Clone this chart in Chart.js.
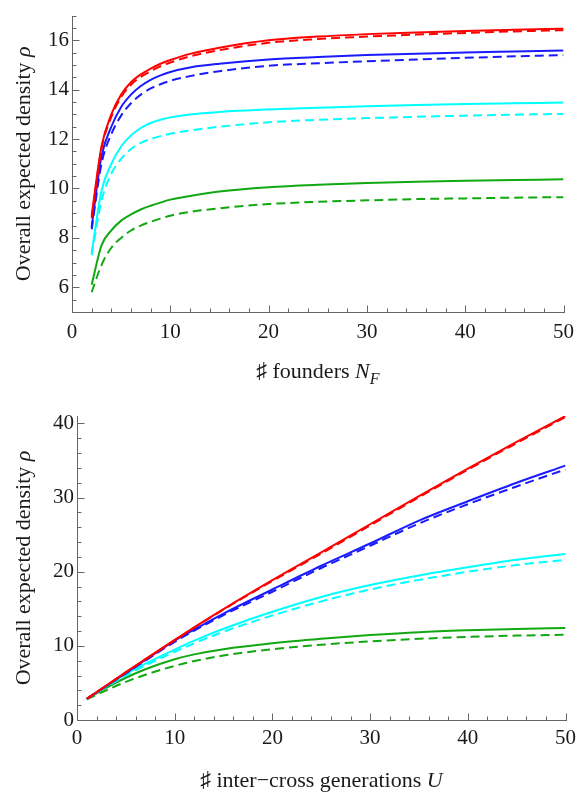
<!DOCTYPE html>
<html>
<head>
<meta charset="utf-8">
<script src="https://cdn.jsdelivr.net/npm/chart.js@4.4.0/dist/chart.umd.min.js"></script>
<style>
  body { margin: 0; background: #fff; }
  .panel { position: absolute; left: 0; }
</style>
</head>
<body>
<div class="panel" style="top:0"><canvas id="foundersChart" width="582" height="392"></canvas></div>
<div class="panel" style="top:392px"><canvas id="generationsChart" width="582" height="402"></canvas></div>
<script>
const SERIF = '"Liberation Serif", "Times New Roman", serif';
const AXIS_GREY = '#666';

// density vs number of founders
const foundersN = [2, 3, 4, 5, 6, 7, 8, 9, 10, 12, 15, 20, 25, 30, 35, 40, 45, 50];
const redSolidNF    = [8.9, 11.7, 13.0, 13.8, 14.3, 14.62, 14.85, 15.05, 15.2, 15.45, 15.7, 16.0, 16.15, 16.25, 16.32, 16.38, 16.43, 16.47];
const redDashedNF   = [8.8, 11.6, 12.9, 13.7, 14.2, 14.52, 14.75, 14.95, 15.1, 15.35, 15.6, 15.9, 16.05, 16.15, 16.23, 16.3, 16.36, 16.41];
const blueSolidNF   = [8.45, 11.3, 12.5, 13.3, 13.8, 14.15, 14.4, 14.58, 14.72, 14.9, 15.05, 15.22, 15.32, 15.4, 15.46, 15.51, 15.55, 15.59];
const blueDashedNF  = [8.35, 11.0, 12.2, 12.95, 13.45, 13.8, 14.05, 14.22, 14.36, 14.55, 14.75, 14.97, 15.07, 15.15, 15.22, 15.29, 15.35, 15.4];
const cyanSolidNF   = [7.4, 9.9, 11.0, 11.7, 12.15, 12.45, 12.65, 12.78, 12.88, 13.0, 13.1, 13.2, 13.27, 13.33, 13.38, 13.42, 13.45, 13.48];
const cyanDashedNF  = [7.3, 9.5, 10.6, 11.2, 11.6, 11.85, 12.0, 12.12, 12.22, 12.35, 12.5, 12.68, 12.78, 12.85, 12.9, 12.95, 12.99, 13.02];
const greenSolidNF  = [6.1, 7.7, 8.3, 8.7, 8.95, 9.15, 9.3, 9.43, 9.55, 9.7, 9.88, 10.05, 10.15, 10.22, 10.27, 10.31, 10.34, 10.37];
const greenDashedNF = [5.8, 6.9, 7.6, 8.0, 8.3, 8.5, 8.65, 8.78, 8.9, 9.05, 9.2, 9.37, 9.46, 9.52, 9.57, 9.6, 9.63, 9.65];
const foundersXTicks = [0, 10, 20, 30, 40, 50];
const foundersYTicks = [6, 8, 10, 12, 14, 16];

// density vs number of inter-cross generations
const generationsU = [1, 3, 5, 7, 10, 12, 15, 20, 25, 30, 35, 40, 45, 50];
const redSolidU    = [2.85, 4.65, 6.45, 8.2, 10.8, 12.5, 14.95, 18.85, 22.6, 26.4, 30.2, 33.9, 37.5, 41.0];
const redDashedU   = [2.85, 4.63, 6.42, 8.17, 10.75, 12.45, 14.9, 18.75, 22.45, 26.25, 30.05, 33.75, 37.35, 40.85];
const blueSolidU   = [2.85, 4.6, 6.35, 8.1, 10.7, 12.2, 14.35, 17.6, 20.8, 23.8, 26.9, 29.5, 32.0, 34.3];
const blueDashedU  = [2.85, 4.58, 6.3, 8.0, 10.55, 12.05, 14.15, 17.3, 20.5, 23.5, 26.5, 29.1, 31.5, 33.8];
const cyanSolidU   = [2.85, 4.55, 6.2, 7.6, 9.5, 10.7, 12.3, 14.6, 16.6, 18.2, 19.5, 20.6, 21.6, 22.4];
const cyanDashedU  = [2.85, 4.45, 6.0, 7.35, 9.2, 10.35, 11.9, 14.1, 16.0, 17.6, 18.9, 20.0, 20.9, 21.6];
const greenSolidU  = [2.85, 4.35, 5.7, 6.85, 8.2, 8.85, 9.55, 10.35, 10.95, 11.45, 11.85, 12.1, 12.28, 12.4];
const greenDashedU = [2.8, 4.0, 5.15, 6.1, 7.3, 7.95, 8.7, 9.55, 10.15, 10.6, 10.95, 11.2, 11.38, 11.5];
const generationsXTicks = [0, 10, 20, 30, 40, 50];
const generationsYTicks = [0, 10, 20, 30, 40];

const RED = '#ff0000', BLUE = '#1a1aff', CYAN = '#00ffff', GREEN = '#11a811';

function line(xs, ys, color, dashed) {
    return {
        data: xs.map((x, i) => ({ x: x, y: ys[i] })),
        borderColor: color,
        borderWidth: 2,
        borderDash: dashed ? [9, 5] : [],
        pointRadius: 0,
        cubicInterpolationMode: 'monotone',
        fill: false
    };
}

function onStep(v, step) {
    const r = v / step;
    return Math.abs(r - Math.round(r)) < 1e-6;
}

// frame with ticks pointing into the plot
const frameTicks = {
    id: 'frameTicks',
    afterDraw(chart, args, opts) {
        const ctx = chart.ctx;
        const xs = chart.scales.x, ys = chart.scales.y;
        const area = chart.chartArea;
        const left = Math.round(area.left) + 0.5;
        const bottom = Math.round(area.bottom) + 0.5;
        ctx.save();
        ctx.strokeStyle = AXIS_GREY;
        ctx.lineWidth = 1;
        ctx.beginPath();
        ctx.moveTo(left, Math.round(area.top));
        ctx.lineTo(left, bottom);
        ctx.lineTo(Math.round(area.right) + 1, bottom);
        for (let v = xs.min; v <= xs.max + 1e-9; v += opts.xMinor) {
            const px = Math.round(xs.getPixelForValue(v)) + 0.5;
            const len = onStep(v, opts.xMajor) ? 7 : 4;
            ctx.moveTo(px, bottom);
            ctx.lineTo(px, bottom - len);
        }
        for (let v = ys.min; v <= ys.max + 1e-9; v += opts.yMinor) {
            const py = Math.round(ys.getPixelForValue(v)) + 0.5;
            const len = onStep(v, opts.yMajor) ? 7 : 4;
            ctx.moveTo(left, py);
            ctx.lineTo(left + len, py);
        }
        ctx.stroke();
        ctx.restore();
    }
};

// axis titles with italic symbols and subscripts
function partFont(p, size) {
    const s = p.sub ? Math.round(size * 0.72) : size;
    return (p.italic ? 'italic ' : '') + s + 'px ' + SERIF;
}

function drawParts(ctx, parts, size) {
    const widths = parts.map(p => { ctx.font = partFont(p, size); return ctx.measureText(p.t).width; });
    let x = -widths.reduce((a, b) => a + b, 0) / 2;
    parts.forEach((p, i) => {
        ctx.font = partFont(p, size);
        ctx.fillText(p.t, x, p.sub ? size * 0.62 : size * 0.35);
        x += widths[i];
    });
}

const richTitles = {
    id: 'richTitles',
    afterDraw(chart, args, opts) {
        const ctx = chart.ctx;
        const area = chart.chartArea;
        ctx.save();
        ctx.fillStyle = '#1a1a1a';
        ctx.textBaseline = 'alphabetic';
        ctx.textAlign = 'left';

        ctx.save();
        ctx.translate((area.left + area.right) / 2, opts.xTitleY);
        drawParts(ctx, opts.xTitle, opts.size);
        ctx.restore();

        ctx.save();
        ctx.translate(opts.yTitleX, (area.top + area.bottom) / 2);
        ctx.rotate(-Math.PI / 2);
        drawParts(ctx, opts.yTitle, opts.size);
        ctx.restore();

        ctx.restore();
    }
};

function makeChart(id, datasets, cfg) {
    const tickFont = { family: SERIF, size: 21 };
    return new Chart(document.getElementById(id), {
        type: 'line',
        data: { datasets: datasets },
        options: {
            responsive: false,
            animation: false,
            layout: { padding: cfg.padding },
            plugins: {
                legend: { display: false },
                tooltip: { enabled: false },
                frameTicks: cfg.ticks,
                richTitles: cfg.titles
            },
            scales: {
                x: {
                    type: 'linear',
                    min: cfg.xMin, max: cfg.xMax,
                    grid: { display: false, drawTicks: false },
                    border: { display: false },
                    ticks: { font: tickFont, color: '#1a1a1a', padding: cfg.xPad, maxRotation: 0 },
                    afterBuildTicks: s => { s.ticks = cfg.xTicks.map(v => ({ value: v })); },
                    afterFit: s => { s.height = cfg.xHeight; }
                },
                y: {
                    type: 'linear',
                    min: cfg.yMin, max: cfg.yMax,
                    grid: { display: false, drawTicks: false },
                    border: { display: false },
                    ticks: { font: tickFont, color: '#1a1a1a', padding: 3 },
                    afterBuildTicks: s => { s.ticks = cfg.yTicks.map(v => ({ value: v })); },
                    afterFit: s => { s.width = cfg.yWidth; }
                }
            }
        },
        plugins: [frameTicks, richTitles]
    });
}

const yTitle = [{ t: 'Overall expected density ' }, { t: 'ρ', italic: true }];

makeChart('foundersChart', [
    line(foundersN, redSolidNF, RED, false),
    line(foundersN, redDashedNF, RED, true),
    line(foundersN, blueSolidNF, BLUE, false),
    line(foundersN, blueDashedNF, BLUE, true),
    line(foundersN, cyanSolidNF, CYAN, false),
    line(foundersN, cyanDashedNF, CYAN, true),
    line(foundersN, greenSolidNF, GREEN, false),
    line(foundersN, greenDashedNF, GREEN, true)
], {
    padding: { left: 0, right: 14, top: 4, bottom: 0 },
    xMin: 0, xMax: 50, yMin: 5, yMax: 17,
    xTicks: foundersXTicks, yTicks: foundersYTicks,
    xHeight: 80, yWidth: 72, xPad: 8,
    ticks: { xMinor: 2, xMajor: 10, yMinor: 0.5, yMajor: 2 },
    titles: {
        size: 22, xTitleY: 370, yTitleX: 22, yTitle: yTitle,
        xTitle: [{ t: '♯ founders ' }, { t: 'N', italic: true }, { t: 'F', italic: true, sub: true }]
    }
});

makeChart('generationsChart', [
    line(generationsU, redSolidU, RED, false),
    line(generationsU, redDashedU, RED, true),
    line(generationsU, blueSolidU, BLUE, false),
    line(generationsU, blueDashedU, BLUE, true),
    line(generationsU, cyanSolidU, CYAN, false),
    line(generationsU, cyanDashedU, CYAN, true),
    line(generationsU, greenSolidU, GREEN, false),
    line(generationsU, greenDashedU, GREEN, true)
], {
    padding: { left: 0, right: 16, top: 24, bottom: 0 },
    xMin: 0, xMax: 50, yMin: 0, yMax: 41,
    xTicks: generationsXTicks, yTicks: generationsYTicks,
    xHeight: 74, yWidth: 77, xPad: 6,
    ticks: { xMinor: 2, xMajor: 10, yMinor: 2, yMajor: 10 },
    titles: {
        size: 22, xTitleY: 387, yTitleX: 22, yTitle: yTitle,
        xTitle: [{ t: '♯ inter−cross generations ' }, { t: 'U', italic: true }]
    }
});
</script>
</body>
</html>
